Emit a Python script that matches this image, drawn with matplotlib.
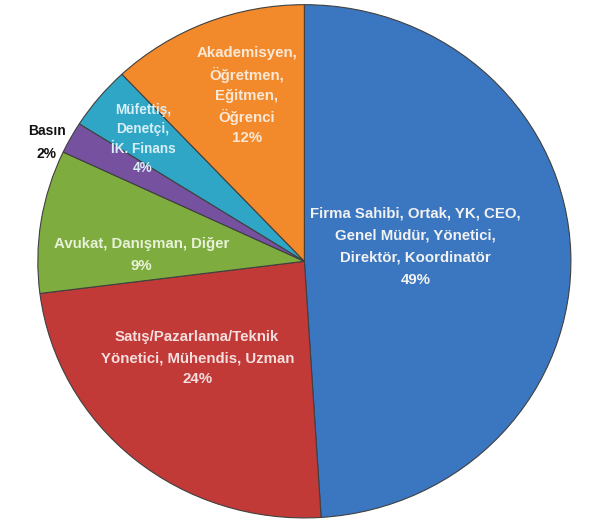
import numpy as np
import matplotlib.pyplot as plt

# Meslek dağılımı (saat yönünde, tepeden başlayarak)
labels = ['Firma Sahibi, Ortak, YK, CEO,\nGenel Müdür, Yönetici,\nDirektör, Koordinatör',
          'Satış/Pazarlama/Teknik\nYönetici, Mühendis, Uzman',
          'Avukat, Danışman, Diğer',
          'Basın',
          'Müfettiş,\nDenetçi,\nİK. Finans',
          'Akademisyen,\nÖğretmen,\nEğitmen,\nÖğrenci']
values = [49, 24, 9, 2, 4, 12]
colors = ['#3b76c0', '#c23a37', '#7eac3f', '#7651a0', '#2fa6c6', '#f28a2c']

# label placement (axes fraction) and style
label_pos = [(0.709, 0.529), (0.299, 0.311), (0.195, 0.512), (0.017, 0.731), (0.197, 0.738), (0.392, 0.823)]
label_col = ['#f2f2f2', '#f4dede', '#e8f2d8', '#111111', '#d8eef6', '#fbe8d6']
label_size = [10.8, 10.8, 10.8, 10, 9.8, 10.8]
label_ls = [1.75, 1.63, 1.75, 1.8, 1.5, 1.52]

fig = plt.figure(figsize=(5.91, 5.20), dpi=100)
ax = fig.add_axes([0.064, 0.004, 0.902, 0.987])
wedges, _ = ax.pie(values, colors=colors, startangle=90, counterclock=False,
                   wedgeprops=dict(edgecolor='#404040', linewidth=0.8))
ax.set_aspect('auto')
ax.set_xlim(-1, 1)
ax.set_ylim(-1, 1)

for i in range(len(values)):
    ax.text(label_pos[i][0], label_pos[i][1], '%s\n%d%%' % (labels[i], values[i]),
            transform=ax.transAxes, ha='center', va='center', multialignment='center',
            color=label_col[i], fontsize=label_size[i], fontweight='bold',
            family='Liberation Sans', linespacing=label_ls[i])

plt.savefig('out.png', dpi=100)
